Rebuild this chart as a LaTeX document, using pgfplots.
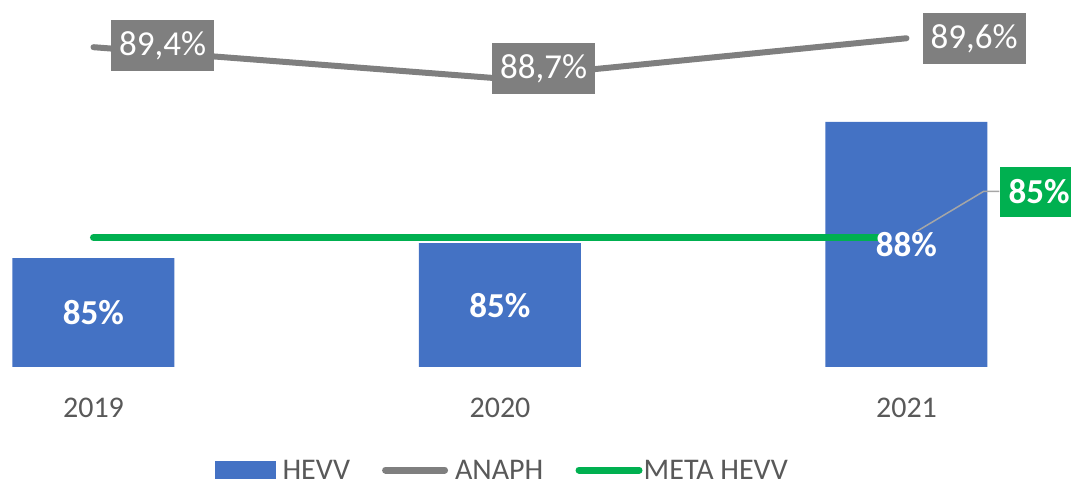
\documentclass[border=0pt]{standalone}
\usepackage{pgfplots}
\pgfplotsset{compat=1.18}
\usepackage{pgfplotstable}
\usepackage{fontspec}
\setmainfont{Carlito}
\definecolor{hevvblue}{HTML}{4472C4}
\definecolor{anaphgray}{HTML}{7F7F7F}
\definecolor{metagreen}{HTML}{00B050}
\definecolor{txtgray}{HTML}{595959}
\definecolor{leadergray}{HTML}{A6A6A6}

\pgfplotstableread{
x v lbl
0 84.52 85
1 84.87 85
2 87.68 88
}\hevvtable
\pgfplotstableread{
x v
0 85
1 85
2 85
}\metatable
\pgfplotstableread{
x v
0 89.4
1 88.7
2 89.6
}\anaphtable

\pgfplotsset{
  anaphlabel/.style={only marks, mark=none, forget plot, point meta=explicit symbolic,
    nodes near coords={\pgfplotspointmeta\%},
    nodes near coords style={anchor=west, xshift=#1,
      fill=anaphgray, text=white, font=\fontsize{35}{42}\selectfont,
      inner xsep=8pt, inner ysep=0pt, minimum height=51pt}},
}

\begin{document}
\begin{tikzpicture}
\begin{axis}[
  scale only axis, width=1071pt, height=367pt,
  at={(0pt,0pt)}, anchor=south west,
  xmin=-0.2300, xmax=2.4047, ymin=82, ymax=90.5,
  axis line style={draw=none}, tick style={draw=none},
  xtick={0,1,2}, xticklabels={2019,2020,2021},
  xticklabel style={font=\fontsize{30}{36}\selectfont, text=txtgray, anchor=base, yshift=-51pt},
  ytick=\empty,
  legend columns=3,
  legend style={at={(0.2007,-0.2807)}, anchor=west, draw=none, fill=none,
    inner sep=0pt, font=\fontsize{30}{36}\selectfont, text=txtgray,
    nodes={inner sep=0pt, text depth=0pt},
    /tikz/every odd column/.style={column sep=7pt},
    /tikz/every even column/.style={column sep=32pt}},
]
\addplot[ybar, bar width=162pt, bar shift=0pt, fill=hevvblue, draw=none, forget plot]
  table[x=x, y=v] {\hevvtable};
\addplot[metagreen, line width=7pt, line cap=round, forget plot]
  table[x=x, y=v] {\metatable};
% bar value labels, centred in the bars
\addplot[only marks, mark=none, forget plot, point meta=explicit symbolic,
  nodes near coords={\pgfplotspointmeta\%},
  nodes near coords style={anchor=center, text=white,
    font=\bfseries\fontsize{35}{42}\selectfont, fill=hevvblue,
    inner xsep=-6pt, inner ysep=1pt}]
  table[x=x, y expr={(\thisrow{v}+82)/2}, meta=lbl] {\hevvtable};
% meta label with leader line
\draw[leadergray, line width=1.5pt] (axis cs:2,85) -- ++(77pt,46pt) -- ++(16pt,0pt);
\addplot[only marks, mark=none, forget plot, point meta=explicit symbolic,
  nodes near coords={\pgfplotspointmeta\%},
  nodes near coords style={anchor=west, xshift=93pt, yshift=45.5pt,
    text=white, font=\bfseries\fontsize{35}{42}\selectfont, fill=metagreen,
    inner xsep=9pt, inner ysep=0pt, minimum height=50pt}]
  coordinates {(2,85) [85]};
\addlegendimage{legend image code/.code={\fill[hevvblue] (0pt,-8.5pt) rectangle (60pt,8.5pt);}}
\addlegendentry{HEVV}
\addlegendimage{legend image code/.code={\draw[anaphgray, line width=7pt, line cap=round] (3.5pt,0pt) -- (62.5pt,0pt);}}
\addlegendentry{ANAPH}
\addlegendimage{legend image code/.code={\draw[overlay, metagreen, line width=7pt, line cap=round] (3.5pt,0pt) -- (63.5pt,0pt); \path (0pt,-3.5pt) (61pt,3.5pt);}}
\addlegendentry{META HEVV}
\end{axis}
\begin{axis}[
  scale only axis, width=1071pt, height=367pt,
  at={(0pt,0pt)}, anchor=south west,
  xmin=-0.2300, xmax=2.4047, ymin=82.246, ymax=90.456,
  axis lines=none, clip=false,
]
\addplot[anaphgray, line width=6pt, line cap=round, line join=round]
  table[x=x, y=v] {\anaphtable};
\addplot[anaphlabel=17.5pt, nodes near coords style={yshift=1.7pt}] coordinates {(0,89.4) [{89,4}]};
\addplot[anaphlabel=-8pt, nodes near coords style={yshift=9.5pt}] coordinates {(1,88.7) [{88,7}]};
\addplot[anaphlabel=16pt, nodes near coords style={yshift=-0.7pt}] coordinates {(2,89.6) [{89,6}]};
\end{axis}
\pgfresetboundingbox
\useasboundingbox (0pt,-119pt) rectangle (1071pt,367pt);
\end{tikzpicture}
\end{document}
